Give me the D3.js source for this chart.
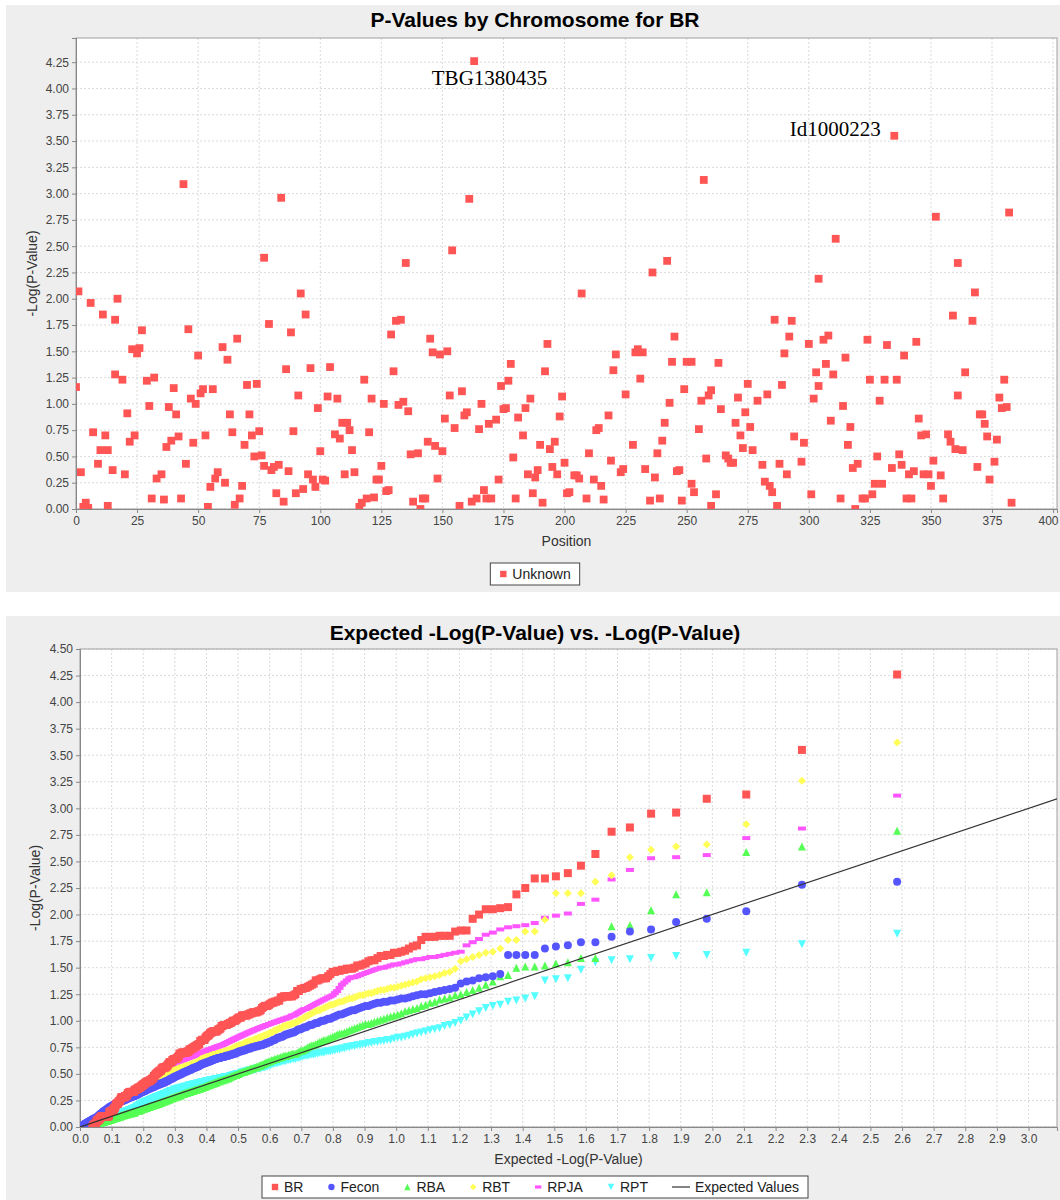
<!DOCTYPE html>
<html lang="en">
<head>
	<meta charset="UTF-8">
	<title>P-Values by Chromosome for BR</title>
	<script src="https://d3js.org/d3.v7.min.js"></script>
	<style>
		body, html {
			margin: 0;
			padding: 0;
			background: #fff;
		}
		svg {
			display: block;
		}
		.chart-title {
			font-family: "Liberation Sans", Arial, sans-serif;
			font-weight: bold;
			font-size: 21px;
			fill: #000;
		}
		.axis-label {
			font-family: "Liberation Sans", Arial, sans-serif;
			font-size: 14px;
			fill: #333;
		}
		.legend-label {
			font-family: "Liberation Sans", Arial, sans-serif;
			font-size: 14px;
			fill: #222;
		}
		.grid {
			stroke: #dadada;
			stroke-width: 1;
			stroke-dasharray: 2,2;
		}
		.marker-label {
			font-family: "Liberation Serif", "Times New Roman", serif;
			font-size: 21px;
			fill: #000;
		}
	</style>
</head>
<body>
<div id="chart"></div>
<script>
	// Top chart: BR -log10(p) by marker position  [position, -log10 p]
	const brByPosition = [
		[0,1.16],[1,2.07],[2,0.35],[3,0.02],[4,0.06],[5,0.01],[6,1.96],[7,0.73],[9,0.43],[10,0.56],
		[11,1.85],[12,0.70],[13,0.56],[13,0.03],[15,0.37],[16,1.28],[16,1.80],[17,2.00],[19,1.23],[20,0.33],
		[21,0.91],[22,0.64],[23,1.52],[24,0.70],[25,1.48],[26,1.53],[27,1.70],[29,1.22],[30,0.98],[31,0.10],
		[32,1.25],[33,0.29],[35,0.33],[36,0.09],[37,0.59],[38,0.97],[39,0.65],[40,1.15],[41,0.90],[42,0.69],
		[43,0.10],[44,3.09],[45,0.43],[46,1.71],[47,1.05],[48,0.63],[49,1.00],[50,1.46],[51,1.10],[52,1.14],
		[53,0.70],[54,0.02],[55,0.21],[56,1.14],[57,0.29],[58,0.35],[60,1.54],[61,0.25],[62,1.42],[63,0.90],
		[64,0.73],[65,0.04],[66,1.62],[67,0.10],[68,0.22],[69,0.61],[70,1.18],[71,0.90],[72,0.70],[73,0.50],
		[74,1.19],[75,0.74],[76,0.51],[77,0.41],[77,2.39],[79,1.76],[80,0.37],[81,0.40],[82,0.15],[83,0.42],
		[84,2.96],[85,0.07],[86,1.33],[87,0.36],[88,1.68],[89,0.74],[90,0.15],[91,1.08],[92,2.05],[93,0.19],
		[94,1.85],[95,0.33],[96,1.34],[97,0.28],[98,0.21],[99,0.96],[100,0.55],[101,0.28],[102,0.27],[103,1.07],
		[104,1.35],[106,0.71],[107,1.05],[108,0.67],[109,0.82],[110,0.33],[111,0.82],[112,0.75],[113,0.56],[114,0.35],
		[116,0.02],[117,0.06],[118,1.23],[119,0.10],[120,0.73],[121,1.05],[122,0.11],[123,0.28],[124,0.28],[125,0.41],
		[126,1.00],[127,0.17],[128,0.18],[129,1.66],[130,1.31],[131,1.79],[132,0.99],[133,1.80],[134,1.02],[135,2.34],
		[136,0.93],[137,0.52],[138,0.07],[140,0.53],[141,0.00],[142,0.10],[143,0.10],[144,0.64],[145,1.62],[146,1.49],
		[147,0.60],[148,0.29],[149,1.47],[150,0.55],[151,0.86],[152,1.50],[153,1.08],[154,2.46],[155,0.77],[157,0.03],
		[158,1.12],[159,0.89],[160,0.92],[161,2.95],[162,0.07],[163,4.26],[164,0.10],[165,0.76],[166,1.00],[167,0.18],
		[168,0.10],[169,0.81],[170,0.10],[172,0.85],[173,0.28],[174,1.17],[175,0.95],[176,0.96],[177,1.22],[178,1.38],
		[179,0.49],[180,0.10],[181,0.87],[183,0.70],[184,0.96],[185,0.33],[186,1.05],[187,0.15],[188,0.30],[189,0.37],
		[190,0.61],[191,0.06],[192,1.31],[193,1.57],[194,0.57],[195,0.40],[196,0.64],[197,0.33],[198,0.88],[199,1.07],
		[200,0.44],[201,0.15],[202,0.16],[204,0.32],[205,0.32],[206,0.29],[207,2.05],[209,0.10],[210,0.53],[212,0.28],
		[213,0.75],[214,0.77],[215,0.22],[216,0.09],[218,0.89],[219,0.46],[220,1.32],[221,1.47],[223,0.35],[224,0.38],
		[225,1.09],[228,0.61],[229,1.49],[230,1.52],[231,1.24],[232,1.49],[233,0.38],[235,0.08],[236,2.25],[237,0.30],
		[238,0.53],[239,0.10],[240,0.65],[241,0.82],[242,2.36],[243,1.01],[244,1.40],[245,1.64],[246,0.36],[247,0.37],
		[248,0.08],[249,1.14],[250,1.40],[252,1.40],[252,0.24],[253,0.16],[255,0.76],[256,1.03],[257,3.13],[258,0.48],
		[259,1.08],[260,0.03],[260,1.13],[262,0.14],[263,1.39],[264,0.95],[266,0.51],[267,0.48],[268,0.44],[269,0.44],
		[270,0.82],[271,1.06],[272,0.70],[273,0.58],[274,0.92],[275,1.19],[276,0.78],[277,0.56],[279,1.03],[281,0.42],
		[282,0.26],[283,1.09],[284,0.22],[285,0.16],[286,1.80],[287,0.03],[288,0.43],[289,1.18],[290,1.48],[291,0.33],
		[292,1.64],[293,1.79],[294,0.69],[297,0.45],[298,0.63],[300,1.57],[301,0.14],[302,1.05],[303,1.30],[304,1.17],
		[304,2.19],[306,1.61],[307,1.38],[308,1.65],[309,0.84],[310,1.28],[311,2.57],[313,0.10],[314,0.98],[315,1.44],
		[316,0.61],[317,0.78],[318,0.39],[319,0.00],[320,0.43],[322,0.10],[323,0.10],[324,1.61],[325,1.23],[326,0.14],
		[327,0.24],[328,0.50],[329,1.03],[330,0.24],[331,1.23],[332,1.56],[334,0.39],[335,3.55],[336,1.23],[337,0.52],
		[338,0.42],[339,1.46],[340,0.10],[341,0.33],[342,0.10],[343,0.36],[344,1.59],[345,0.86],[346,0.70],[347,0.33],
		[348,0.71],[349,0.33],[350,0.22],[351,0.46],[352,2.78],[354,0.32],[355,0.10],[357,0.71],[358,0.64],[359,1.84],
		[360,0.57],[361,1.08],[361,2.34],[363,0.56],[364,1.30],[367,1.79],[368,2.06],[369,0.40],[370,0.90],[371,0.90],
		[372,0.81],[373,0.69],[374,0.28],[376,0.45],[377,0.66],[378,1.06],[379,0.96],[380,1.23],[381,0.97],[382,2.82],
		[383,0.06]
	];

	// Named markers shown on the top chart (text placed at position / value)
	const markerLabels = [
		{ text: "TBG1380435", position: 169.3, value: 4.10 },
		{ text: "Id1000223", position: 310.8, value: 3.62 }
	];

	// Observed -log10 p for the other traits, low to high (383 markers each)
	const feconValues = [
		0,0,0,0.01,0.01,0.01,0.01,0.01,0.02,0.02,0.02,0.02,0.03,0.03,0.03,0.03,0.03,0.04,0.04,0.04,0.04,0.05,0.05,0.05,0.05,0.05,0.06,0.06,0.06,0.06,0.06,0.07,0.07,0.07,0.07,0.07,0.08,0.08,0.08,0.08,0.08,0.08,0.09,0.09,
		0.09,0.10,0.10,0.10,0.11,0.11,0.11,0.12,0.12,0.12,0.13,0.13,0.13,0.14,0.14,0.14,0.15,0.15,0.15,0.15,0.16,0.16,0.16,0.17,0.17,0.17,0.18,0.18,0.18,0.18,0.19,0.19,0.19,0.19,0.20,0.20,0.20,0.20,0.21,0.21,
		0.21,0.21,0.22,0.22,0.22,0.22,0.22,0.23,0.23,0.23,0.23,0.24,0.24,0.24,0.24,0.24,0.25,0.25,0.25,0.25,0.25,0.26,0.26,0.26,0.26,0.26,0.27,0.27,0.27,0.27,0.27,0.28,0.28,0.28,0.28,0.28,0.29,0.29,0.29,0.29,0.29,0.30,0.30,0.30,0.30,0.30,0.31,0.31,0.31,0.31,
		0.32,0.32,0.32,0.33,0.33,0.33,0.33,0.34,0.34,0.34,0.34,0.35,0.35,0.35,0.35,0.36,0.36,0.36,0.36,0.37,0.37,0.37,0.37,0.38,0.38,0.38,0.38,0.39,0.39,0.39,0.39,0.40,0.40,0.40,0.40,0.41,0.41,0.41,0.41,0.42,0.42,0.42,0.42,0.43,0.43,0.43,0.43,0.44,0.44,0.45,
		0.45,0.45,0.46,0.46,0.46,0.47,0.47,0.47,0.48,0.48,0.48,0.49,0.49,0.49,0.50,0.50,0.50,0.51,0.51,0.51,0.52,0.52,0.52,0.53,0.53,0.53,0.54,0.54,0.54,0.55,0.55,0.55,0.56,0.56,0.56,0.57,0.57,0.57,0.58,0.58,
		0.59,0.59,0.59,0.60,0.60,0.60,0.61,0.61,0.61,0.62,0.62,0.62,0.63,0.63,0.63,0.64,0.64,0.64,0.65,0.65,0.65,0.65,0.66,0.66,0.66,0.66,0.67,0.67,0.67,0.67,
		0.68,0.68,0.68,0.69,0.69,0.69,0.70,0.70,0.71,0.71,0.71,0.72,0.72,0.72,0.73,0.73,0.74,0.74,0.74,0.75,0.75,0.75,0.76,0.76,0.76,0.77,0.77,0.77,0.78,0.78,
		0.79,0.79,0.80,0.80,0.81,0.82,0.82,0.83,0.84,0.84,0.85,0.85,0.86,0.87,0.87,0.88,0.88,0.89,0.89,0.90,
		0.91,0.92,0.92,0.93,0.94,0.94,0.95,0.96,0.96,0.97,0.98,0.98,0.99,1.00,1.00,1.01,1.02,1.02,1.03,1.04,
		1.05,1.06,1.06,1.07,1.08,1.09,1.10,1.10,1.11,1.12,1.13,1.14,1.14,1.15,1.16,1.17,1.17,1.18,1.18,1.19,1.19,1.20,1.21,1.21,1.22,
		1.23,1.24,1.25,1.25,1.26,1.27,1.28,1.29,1.30,1.31,1.35,1.37,1.38,1.40,1.41,1.42,
		1.44,1.62,1.62,1.62,1.62,1.68,1.70,1.71,1.74,1.74,1.79,1.84,1.86,1.93,1.96,2.03,2.28,2.31
	];

	const rbaValues = [
		0,0,0,0,0,0,0,0,0,0,0,0.01,0.01,0.01,0.01,0.01,0.01,0.01,0.01,0.01,0.01,0.01,0.02,0.02,0.02,0.02,0.02,0.02,0.02,0.02,0.02,0.02,0.02,0.03,0.03,0.03,0.03,0.03,0.03,0.03,0.03,0.03,0.03,0.03,
		0.04,0.04,0.04,0.04,0.04,0.04,0.04,0.04,0.04,0.04,0.05,0.05,0.05,0.05,0.05,0.05,0.05,0.05,0.06,0.06,0.06,0.06,0.06,0.06,0.06,0.06,0.07,0.07,0.07,0.07,0.07,0.07,0.07,0.07,0.08,0.08,0.08,0.08,0.08,0.08,
		0.09,0.09,0.09,0.09,0.09,0.09,0.09,0.10,0.10,0.10,0.10,0.10,0.10,0.10,0.11,0.11,0.11,0.11,0.11,0.11,0.11,0.12,0.12,0.12,0.12,0.12,0.12,0.12,0.13,0.13,0.13,0.13,0.13,0.13,0.13,0.13,0.14,0.14,0.14,0.14,0.14,0.14,0.14,0.15,0.15,0.15,0.15,0.15,0.15,0.15,
		0.16,0.16,0.16,0.16,0.17,0.17,0.17,0.17,0.17,0.18,0.18,0.18,0.18,0.18,0.19,0.19,0.19,0.19,0.19,0.20,0.20,0.20,0.20,0.20,0.21,0.21,0.21,0.21,0.21,0.22,0.22,0.22,0.22,0.22,0.23,0.23,0.23,0.23,0.24,0.24,0.24,0.24,0.25,0.25,0.25,0.25,0.26,0.26,0.26,0.26,
		0.27,0.27,0.27,0.27,0.28,0.28,0.28,0.28,0.29,0.29,0.29,0.29,0.30,0.30,0.30,0.30,0.31,0.31,0.31,0.31,0.32,0.32,0.32,0.32,0.33,0.33,0.33,0.33,0.34,0.34,0.34,0.34,0.35,0.35,0.35,0.35,0.36,0.36,0.36,0.36,
		0.37,0.37,0.37,0.38,0.38,0.38,0.39,0.39,0.39,0.40,0.40,0.40,0.41,0.41,0.41,0.42,0.42,0.42,0.43,0.43,0.43,0.44,0.44,0.44,0.45,0.45,0.45,0.46,0.46,0.46,
		0.47,0.47,0.48,0.48,0.49,0.49,0.49,0.50,0.50,0.51,0.51,0.52,0.52,0.52,0.53,0.53,0.54,0.54,0.55,0.55,0.55,0.56,0.56,0.57,0.57,0.58,0.58,0.59,0.59,0.60,
		0.61,0.61,0.62,0.62,0.63,0.63,0.64,0.64,0.65,0.65,0.66,0.66,0.67,0.67,0.67,0.68,0.68,0.69,0.69,0.69,
		0.70,0.71,0.72,0.72,0.73,0.74,0.75,0.76,0.77,0.77,0.78,0.79,0.80,0.81,0.82,0.82,0.83,0.84,0.85,0.86,
		0.87,0.88,0.88,0.89,0.90,0.91,0.92,0.93,0.94,0.95,0.96,0.97,0.97,0.98,0.99,1.00,1.01,1.02,1.03,1.04,1.05,1.06,1.07,1.09,1.10,
		1.11,1.12,1.14,1.15,1.17,1.18,1.20,1.21,1.22,1.24,1.25,1.27,1.29,1.31,1.34,1.37,
		1.42,1.43,1.50,1.51,1.51,1.52,1.54,1.55,1.59,1.59,1.89,1.90,2.04,2.19,2.21,2.59,2.64,2.79
	];

	const rbtValues = [
		0,0,0,0,0,0,0.01,0.01,0.01,0.01,0.01,0.01,0.02,0.02,0.02,0.02,0.02,0.02,0.03,0.03,0.03,0.03,0.03,0.03,0.04,0.04,0.04,0.04,0.04,0.04,0.05,0.05,0.05,0.05,0.05,0.05,0.06,0.06,0.06,0.06,0.06,0.06,0.06,0.06,
		0.07,0.07,0.07,0.08,0.08,0.08,0.09,0.09,0.09,0.09,0.10,0.10,0.10,0.11,0.11,0.11,0.11,0.12,0.12,0.12,0.13,0.13,0.13,0.13,0.14,0.14,0.14,0.15,0.15,0.15,0.15,0.16,0.16,0.16,0.17,0.17,0.17,0.18,0.18,0.18,
		0.19,0.19,0.19,0.20,0.20,0.20,0.21,0.21,0.21,0.22,0.22,0.22,0.23,0.23,0.23,0.24,0.24,0.24,0.25,0.25,0.25,0.26,0.26,0.26,0.27,0.27,0.27,0.28,0.28,0.28,0.29,0.29,0.29,0.30,0.30,0.30,0.31,0.31,0.31,0.32,0.32,0.32,0.32,0.33,0.33,0.33,0.33,0.34,0.34,0.34,
		0.35,0.35,0.35,0.36,0.36,0.36,0.37,0.37,0.37,0.38,0.38,0.38,0.39,0.39,0.39,0.40,0.40,0.40,0.41,0.41,0.41,0.42,0.42,0.42,0.43,0.43,0.43,0.44,0.44,0.44,0.45,0.45,0.45,0.46,0.46,0.46,0.47,0.47,0.47,0.48,0.48,0.48,0.49,0.49,0.49,0.50,0.50,0.51,0.51,0.52,
		0.52,0.52,0.52,0.53,0.53,0.53,0.53,0.54,0.54,0.54,0.54,0.55,0.55,0.55,0.55,0.56,0.56,0.56,0.56,0.57,0.57,0.57,0.57,0.58,0.58,0.58,0.58,0.59,0.59,0.59,0.59,0.60,0.60,0.60,0.61,0.61,0.61,0.62,0.62,0.63,
		0.64,0.64,0.64,0.65,0.65,0.65,0.66,0.66,0.66,0.66,0.67,0.67,0.67,0.68,0.68,0.68,0.68,0.69,0.69,0.69,0.70,0.70,0.70,0.70,0.71,0.71,0.71,0.72,0.72,0.72,
		0.73,0.73,0.74,0.74,0.75,0.75,0.76,0.76,0.76,0.77,0.77,0.78,0.78,0.79,0.79,0.80,0.80,0.81,0.81,0.81,0.82,0.82,0.83,0.83,0.84,0.84,0.85,0.85,0.86,0.86,
		0.87,0.87,0.88,0.89,0.89,0.90,0.91,0.91,0.92,0.93,0.93,0.94,0.95,0.95,0.96,0.96,0.97,0.97,0.98,0.98,
		0.99,1.00,1.01,1.02,1.03,1.04,1.05,1.06,1.07,1.08,1.09,1.10,1.10,1.11,1.12,1.13,1.14,1.15,1.15,1.16,
		1.17,1.18,1.18,1.19,1.20,1.21,1.21,1.22,1.23,1.24,1.24,1.25,1.26,1.26,1.27,1.28,1.29,1.29,1.30,1.31,1.31,1.32,1.33,1.34,1.35,
		1.36,1.37,1.39,1.40,1.41,1.42,1.43,1.45,1.46,1.49,1.56,1.58,1.60,1.62,1.64,1.65,
		1.68,1.76,1.76,1.84,1.84,1.95,2.20,2.20,2.20,2.31,2.37,2.54,2.61,2.64,2.66,2.85,3.26,3.62
	];

	const rpjaValues = [
		0,0,0,0,0,0.01,0.01,0.01,0.01,0.01,0.01,0.02,0.02,0.02,0.02,0.02,0.02,0.03,0.03,0.03,0.03,0.03,0.03,0.04,0.04,0.04,0.04,0.04,0.04,0.05,0.05,0.05,0.05,0.05,0.06,0.06,0.06,0.06,0.06,0.07,0.07,0.07,0.07,0.07,
		0.08,0.08,0.08,0.09,0.09,0.09,0.10,0.10,0.10,0.11,0.11,0.11,0.12,0.12,0.12,0.13,0.13,0.13,0.14,0.14,0.14,0.15,0.15,0.15,0.16,0.16,0.16,0.17,0.17,0.17,0.18,0.18,0.18,0.19,0.19,0.19,0.20,0.20,0.21,0.21,
		0.22,0.22,0.22,0.23,0.23,0.23,0.24,0.24,0.24,0.25,0.25,0.25,0.26,0.26,0.26,0.27,0.27,0.27,0.28,0.28,0.28,0.29,0.29,0.29,0.30,0.30,0.30,0.31,0.31,0.31,0.32,0.32,0.32,0.33,0.33,0.33,0.34,0.34,0.34,0.35,0.35,0.35,0.35,0.36,0.36,0.36,0.36,0.37,0.37,0.37,
		0.38,0.38,0.39,0.39,0.39,0.40,0.40,0.41,0.41,0.41,0.42,0.42,0.43,0.43,0.43,0.44,0.44,0.45,0.45,0.45,0.46,0.46,0.47,0.47,0.47,0.48,0.48,0.49,0.49,0.49,0.50,0.50,0.51,0.51,0.51,0.52,0.52,0.53,0.53,0.53,0.54,0.54,0.55,0.55,0.55,0.56,0.56,0.57,0.57,0.57,
		0.58,0.58,0.58,0.59,0.59,0.59,0.60,0.60,0.60,0.60,0.61,0.61,0.61,0.62,0.62,0.62,0.63,0.63,0.63,0.63,0.64,0.64,0.64,0.65,0.65,0.65,0.66,0.66,0.66,0.66,0.67,0.67,0.67,0.68,0.68,0.68,0.68,0.69,0.69,0.69,
		0.70,0.70,0.70,0.71,0.71,0.71,0.72,0.72,0.72,0.73,0.73,0.73,0.74,0.74,0.74,0.75,0.75,0.75,0.76,0.76,0.76,0.77,0.77,0.77,0.78,0.78,0.79,0.79,0.80,0.80,
		0.81,0.81,0.82,0.82,0.83,0.83,0.84,0.84,0.85,0.85,0.86,0.86,0.87,0.87,0.88,0.88,0.89,0.89,0.90,0.90,0.91,0.91,0.92,0.92,0.93,0.93,0.94,0.94,0.95,0.95,
		0.96,0.96,0.97,0.97,0.98,0.98,0.99,0.99,1.00,1.00,1.01,1.01,1.02,1.02,1.03,1.03,1.04,1.05,1.05,1.06,
		1.07,1.08,1.09,1.10,1.11,1.11,1.12,1.13,1.14,1.15,1.16,1.17,1.18,1.19,1.20,1.21,1.22,1.23,1.24,1.26,
		1.28,1.31,1.34,1.36,1.38,1.40,1.41,1.41,1.42,1.43,1.44,1.45,1.46,1.47,1.48,1.49,1.50,1.50,1.51,1.52,1.53,1.53,1.54,1.55,1.56,
		1.57,1.58,1.58,1.59,1.60,1.60,1.61,1.62,1.63,1.64,1.65,1.71,1.74,1.77,1.81,1.83,
		1.86,1.88,1.89,1.90,1.92,1.97,1.99,2.01,2.10,2.14,2.33,2.42,2.53,2.54,2.56,2.72,2.81,3.12
	];

	const rptValues = [
		0,0,0,0,0,0,0,0,0,0,0,0.01,0.01,0.01,0.01,0.01,0.01,0.01,0.01,0.01,0.01,0.01,0.02,0.02,0.02,0.02,0.02,0.02,0.02,0.02,0.02,0.02,0.02,0.03,0.03,0.03,0.03,0.03,0.03,0.03,0.03,0.03,0.03,0.03,
		0.04,0.04,0.04,0.04,0.04,0.04,0.04,0.05,0.05,0.05,0.05,0.05,0.05,0.05,0.06,0.06,0.06,0.06,0.06,0.06,0.06,0.07,0.07,0.07,0.07,0.07,0.07,0.07,0.08,0.08,0.08,0.08,0.08,0.08,0.09,0.09,0.09,0.09,0.09,0.09,
		0.10,0.10,0.10,0.10,0.10,0.11,0.11,0.11,0.11,0.11,0.12,0.12,0.12,0.12,0.12,0.13,0.13,0.13,0.13,0.13,0.14,0.14,0.14,0.14,0.14,0.15,0.15,0.15,0.15,0.15,0.16,0.16,0.16,0.16,0.16,0.17,0.17,0.17,0.17,0.17,0.18,0.18,0.18,0.18,0.19,0.19,0.19,0.19,0.20,0.20,
		0.21,0.21,0.21,0.21,0.22,0.22,0.22,0.22,0.23,0.23,0.23,0.23,0.24,0.24,0.24,0.24,0.25,0.25,0.25,0.25,0.26,0.26,0.26,0.26,0.27,0.27,0.27,0.27,0.28,0.28,0.28,0.28,0.29,0.29,0.29,0.29,0.30,0.30,0.30,0.30,0.31,0.31,0.31,0.31,0.32,0.32,0.32,0.33,0.33,0.33,
		0.34,0.34,0.34,0.34,0.34,0.35,0.35,0.35,0.35,0.35,0.36,0.36,0.36,0.36,0.36,0.37,0.37,0.37,0.37,0.37,0.38,0.38,0.38,0.38,0.38,0.39,0.39,0.39,0.39,0.39,0.40,0.40,0.40,0.40,0.40,0.41,0.41,0.41,0.41,0.41,
		0.42,0.42,0.42,0.42,0.42,0.43,0.43,0.43,0.43,0.43,0.44,0.44,0.44,0.44,0.44,0.45,0.45,0.45,0.45,0.45,0.46,0.46,0.46,0.46,0.46,0.47,0.47,0.47,0.47,0.47,
		0.48,0.48,0.48,0.49,0.49,0.49,0.50,0.50,0.50,0.50,0.51,0.51,0.51,0.52,0.52,0.52,0.53,0.53,0.53,0.53,0.54,0.54,0.54,0.55,0.55,0.55,0.55,0.56,0.56,0.56,
		0.57,0.57,0.58,0.58,0.59,0.59,0.60,0.60,0.60,0.61,0.61,0.62,0.62,0.62,0.63,0.63,0.63,0.64,0.64,0.64,
		0.65,0.65,0.66,0.66,0.67,0.67,0.67,0.68,0.68,0.68,0.69,0.69,0.70,0.70,0.70,0.71,0.71,0.71,0.72,0.72,
		0.73,0.73,0.74,0.74,0.75,0.75,0.76,0.76,0.77,0.77,0.78,0.78,0.79,0.79,0.80,0.80,0.81,0.81,0.82,0.82,0.83,0.84,0.84,0.85,0.86,
		0.87,0.88,0.89,0.90,0.91,0.92,0.93,0.95,0.96,0.98,1.00,1.03,1.06,1.09,1.12,1.14,
		1.15,1.18,1.19,1.21,1.23,1.38,1.39,1.40,1.48,1.55,1.57,1.58,1.59,1.61,1.62,1.64,1.72,1.82
	];

	// Number of markers tested per trait (for expected quantiles)
	const markerCount = 383;

	// Tick values
	const positionTicks = d3.range(0, 401, 25);
	const logPTicks = d3.range(0, 4.26, 0.25);
	const expectedTicks = d3.range(0, 31).map(i => i / 10);
	const qqLogPTicks = d3.range(0, 19).map(i => i * 0.25);

	const width = 1060;
	const height = 1200;

	const svg = d3.select("#chart")
		.append("svg")
		.attr("width", width)
		.attr("height", height);

	// Marker shapes, the JFreeChart default sequence
	const shapes = {
		square: s => `M${-s},${-s}h${2 * s}v${2 * s}h${-2 * s}Z`,
		circle: s => `M${s},0A${s},${s} 0 1,1 ${-s},0A${s},${s} 0 1,1 ${s},0Z`,
		up: s => `M0,${-s}L${s},${s}L${-s},${s}Z`,
		diamond: s => `M0,${-s}L${s},0L0,${s}L${-s},0Z`,
		rect: s => `M${-s},${-s / 2}h${2 * s}v${s}h${-2 * s}Z`,
		down: s => `M${-s},${-s}L${s},${-s}L0,${s}Z`
	};

	// Gray chart backgrounds
	svg.append("rect").attr("x", 6).attr("y", 5).attr("width", 1054).attr("height", 587).attr("fill", "#eeeeee");
	svg.append("rect").attr("x", 6).attr("y", 616).attr("width", 1054).attr("height", 584).attr("fill", "#eeeeee");

	// Draws plot background, grid, axes and labels; returns a clipped group for the marks
	function drawFrame(c) {
		const [x0, x1] = c.x.range();
		const [y0, y1] = c.y.range();
		const g = svg.append("g");

		g.append("rect")
			.attr("x", x0).attr("y", y1)
			.attr("width", x1 - x0).attr("height", y0 - y1)
			.attr("fill", "#fff");

		g.selectAll(null).data(c.xTicks).enter().append("line")
			.attr("class", "grid")
			.attr("x1", d => c.x(d)).attr("x2", d => c.x(d))
			.attr("y1", y1).attr("y2", y0);

		g.selectAll(null).data(c.yTicks).enter().append("line")
			.attr("class", "grid")
			.attr("x1", x0).attr("x2", x1)
			.attr("y1", d => c.y(d)).attr("y2", d => c.y(d));

		g.append("rect")
			.attr("x", x0).attr("y", y1)
			.attr("width", x1 - x0).attr("height", y0 - y1)
			.attr("fill", "none").attr("stroke", "#a0a0a0");

		const xAxis = g.append("g")
			.attr("transform", `translate(0,${y0})`)
			.call(d3.axisBottom(c.x).tickValues(c.xTicks).tickFormat(c.xFormat).tickSize(4).tickPadding(3));
		const yAxis = g.append("g")
			.attr("transform", `translate(${x0},0)`)
			.call(d3.axisLeft(c.y).tickValues(c.yTicks).tickFormat(c.yFormat).tickSize(4).tickPadding(3));

		[xAxis, yAxis].forEach(a => {
			a.attr("font-family", "\"Liberation Sans\", Arial, sans-serif").attr("font-size", 12);
			a.select(".domain").attr("stroke", "#888");
			a.selectAll(".tick line").attr("stroke", "#888");
			a.selectAll(".tick text").attr("fill", "#444");
		});

		// keep the last bottom label inside the picture
		xAxis.selectAll(".tick text")
			.filter(d => c.x(d) + 12 > width)
			.attr("text-anchor", "end")
			.attr("dx", d => width - 2 - c.x(d));

		svg.append("text")
			.attr("class", "chart-title")
			.attr("x", 535).attr("y", c.titleY)
			.attr("text-anchor", "middle")
			.text(c.title);

		svg.append("text")
			.attr("class", "axis-label")
			.attr("x", (x0 + x1) / 2).attr("y", y0 + 37)
			.attr("text-anchor", "middle")
			.text(c.xLabel);

		svg.append("text")
			.attr("class", "axis-label")
			.attr("transform", `translate(${c.yLabelX},${(y0 + y1) / 2}) rotate(-90)`)
			.attr("text-anchor", "middle")
			.text(c.yLabel);

		svg.append("clipPath").attr("id", c.id)
			.append("rect")
			.attr("x", x0).attr("y", y1)
			.attr("width", x1 - x0).attr("height", y0 - y1);

		return svg.append("g").attr("clip-path", `url(#${c.id})`);
	}

	// Legend box centred on cx
	function drawLegend(items, cx, top) {
		const g = svg.append("g");
		const box = g.append("rect");
		const inner = g.append("g");
		let cursor = 0;
		items.forEach(it => {
			const item = inner.append("g").attr("transform", `translate(${cursor},0)`);
			const sw = it.line ? 18 : 8;
			if (it.line) {
				item.append("line").attr("x1", 0).attr("x2", sw).attr("y1", 0).attr("y2", 0)
					.attr("stroke", it.color).attr("stroke-width", 1.2);
			} else {
				item.append("path").attr("d", shapes[it.shape](3.2))
					.attr("transform", "translate(4,0)").attr("fill", it.color);
			}
			const t = item.append("text").attr("class", "legend-label")
				.attr("x", sw + 5).attr("y", 5).text(it.label);
			cursor += sw + 5 + t.node().getComputedTextLength() + 24;
		});
		const total = cursor - 24;
		const pad = 9;
		inner.attr("transform", `translate(${cx - total / 2},${top + 11})`);
		box.attr("x", cx - total / 2 - pad).attr("y", top)
			.attr("width", total + 2 * pad).attr("height", 22)
			.attr("fill", "#fff").attr("stroke", "#444");
	}

	// ---------- Top chart ----------
	const xPos = d3.scaleLinear().domain([0, 401.6]).range([76, 1057]);
	const yTop = d3.scaleLinear().domain([0, 4.48]).range([509, 38]);

	const topPlot = drawFrame({
		id: "clip-top", x: xPos, y: yTop,
		xTicks: positionTicks, yTicks: logPTicks,
		xFormat: d3.format("d"), yFormat: d3.format(".2f"),
		title: "P-Values by Chromosome for BR", titleY: 27,
		xLabel: "Position", yLabel: "-Log(P-Value)", yLabelX: 37
	});

	topPlot.selectAll(null)
		.data(brByPosition)
		.enter()
		.append("path")
		.attr("d", shapes.square(3.9))
		.attr("transform", d => `translate(${xPos(d[0])},${yTop(d[1])})`)
		.attr("fill", "#ff5555");

	svg.selectAll(null)
		.data(markerLabels)
		.enter()
		.append("text")
		.attr("class", "marker-label")
		.attr("x", d => xPos(d.position))
		.attr("y", d => yTop(d.value))
		.attr("dy", "0.35em")
		.attr("text-anchor", "middle")
		.text(d => d.text);

	drawLegend([{ label: "Unknown", shape: "square", color: "#ff5555" }], 535, 563);

	// ---------- QQ chart ----------
	const xExp = d3.scaleLinear().domain([0, 3.09]).range([80, 1057]);
	const yQQ = d3.scaleLinear().domain([0, 4.5]).range([1127, 649]);

	const qqPlot = drawFrame({
		id: "clip-qq", x: xExp, y: yQQ,
		xTicks: expectedTicks, yTicks: qqLogPTicks,
		xFormat: d3.format(".1f"), yFormat: d3.format(".2f"),
		title: "Expected -Log(P-Value) vs. -Log(P-Value)", titleY: 640,
		xLabel: "Expected -Log(P-Value)", yLabel: "-Log(P-Value)", yLabelX: 40
	});

	const traits = [
		{ name: "BR", values: brByPosition.map(d => d[1]), shape: "square", color: "#ff5555" },
		{ name: "Fecon", values: feconValues, shape: "circle", color: "#5555ff" },
		{ name: "RBA", values: rbaValues, shape: "up", color: "#55ff55" },
		{ name: "RBT", values: rbtValues, shape: "diamond", color: "#ffff55" },
		{ name: "RPJA", values: rpjaValues, shape: "rect", color: "#ff55ff" },
		{ name: "RPT", values: rptValues, shape: "down", color: "#55ffff" }
	];

	// rank observed values high to low, expected = -log10(rank / (n + 1))
	function qqPoints(values) {
		return values.slice().sort((a, b) => b - a)
			.map((v, i) => [-Math.log10((i + 1) / (markerCount + 1)), v]);
	}

	// series 0 ends up on top, like the original renderer
	traits.slice().reverse().forEach(t => {
		qqPlot.selectAll(null)
			.data(qqPoints(t.values))
			.enter()
			.append("path")
			.attr("d", shapes[t.shape](4))
			.attr("transform", d => `translate(${xExp(d[0])},${yQQ(d[1])})`)
			.attr("fill", t.color);
	});

	// Expected values line y = x
	qqPlot.append("line")
		.attr("x1", xExp(0)).attr("y1", yQQ(0))
		.attr("x2", xExp(3.09)).attr("y2", yQQ(3.09))
		.attr("stroke", "#333").attr("stroke-width", 1.2);

	drawLegend(
		traits.map(t => ({ label: t.name, shape: t.shape, color: t.color }))
			.concat([{ label: "Expected Values", line: true, color: "#333" }]),
		535, 1176
	);
</script>
</body>
</html>
